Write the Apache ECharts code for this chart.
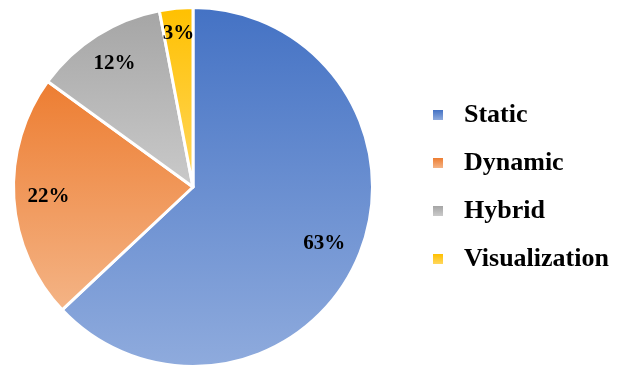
<!DOCTYPE html>
<html>
<head>
<meta charset="utf-8">
<title>Approach share</title>
<script src="https://cdn.jsdelivr.net/npm/echarts@6/dist/echarts.min.js"></script>
<style>
  html, body { margin: 0; padding: 0; background: #ffffff; }
  #chart { width: 622px; height: 366px; }
</style>
</head>
<body>
<div id="chart"></div>
<script>
// Share of each approach, in percent
const categories = ['Static', 'Dynamic', 'Hybrid', 'Visualization'];
const shares = [63, 22, 12, 3];

// Top / bottom colours of each slice's vertical gradient
const topColors = ['#4472C4', '#ED7D31', '#A5A5A5', '#FFC000'];
const bottomColors = ['#8FABDD', '#F4B486', '#CACACA', '#FFD75E'];

const CENTER = [193, 187];
const RADIUS = 179.5;
const EDGE_MARGIN = 13;

const chart = echarts.init(document.getElementById('chart'), null, { renderer: 'canvas' });

function gradient(i) {
  return new echarts.graphic.LinearGradient(0, 0, 0, 1, [
    { offset: 0, color: topColors[i] },
    { offset: 1, color: bottomColors[i] }
  ]);
}

const seriesData = categories.map((name, i) => ({
  name: name,
  value: shares[i],
  itemStyle: { color: gradient(i) }
}));

chart.setOption({
  animation: false,
  legend: {
    orient: 'vertical',
    left: 433,
    top: 98,
    padding: 0,
    itemWidth: 10,
    itemHeight: 10,
    itemGap: 14,
    icon: 'rect',
    selectedMode: false,
    itemStyle: { borderWidth: 0, borderColor: 'rgba(0,0,0,0)' },
    textStyle: {
      fontFamily: '"Liberation Serif", "Times New Roman", serif',
      fontWeight: 'bold',
      fontSize: 26,
      lineHeight: 26,
      color: '#000000',
      padding: [8, 0, 0, 16]
    },
    data: categories.map(n => ({ name: n, itemStyle: { borderWidth: 0 } }))
  },
  series: [{
    type: 'pie',
    center: CENTER,
    radius: RADIUS,
    startAngle: 90,
    clockwise: true,
    itemStyle: { borderColor: '#ffffff', borderWidth: 3 },
    label: {
      show: true,
      position: 'inside',
      formatter: '{d}%',
      fontFamily: '"Liberation Serif", "Times New Roman", serif',
      fontWeight: 'bold',
      fontSize: 21,
      color: '#000000'
    },
    labelLine: { show: false },
    emphasis: { disabled: true },
    // Push each label outward along its slice's mid-angle so it sits
    // just inside the rim, keeping a fixed gap from the outer edge.
    labelLayout: function (params) {
      const r = params.labelRect;
      const lx = r.x + r.width / 2;
      const ly = r.y + r.height / 2;
      const dx = lx - CENTER[0];
      const dy = ly - CENTER[1];
      const len = Math.sqrt(dx * dx + dy * dy) || 1;
      const ux = dx / len, uy = dy / len;
      const halfExtent = Math.abs(ux) * r.width / 2 + Math.abs(uy) * r.height / 2;
      const dist = RADIUS - EDGE_MARGIN - halfExtent;
      return { x: CENTER[0] + ux * dist, y: CENTER[1] + uy * dist };
    },
    data: seriesData
  }]
});
</script>
</body>
</html>
